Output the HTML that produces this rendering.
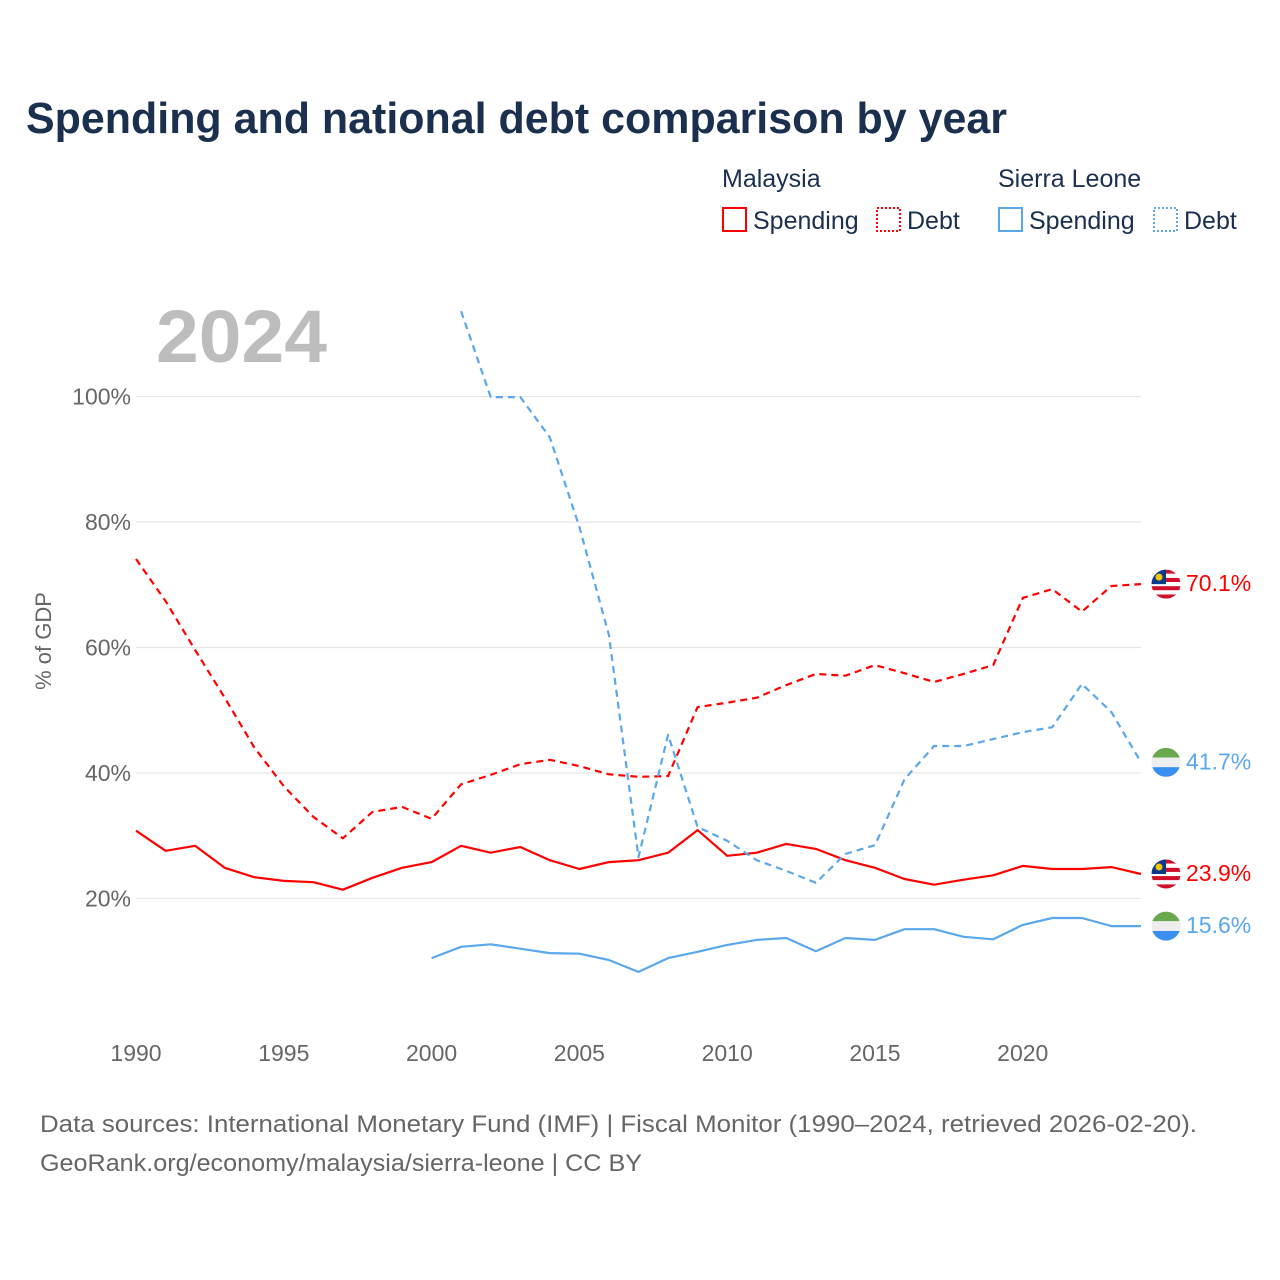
<!DOCTYPE html>
<html><head><meta charset="utf-8">
<style>
body{margin:0;background:#fff;font-family:"Liberation Sans",sans-serif;}
#wrap{position:relative;width:1280px;height:1280px;overflow:hidden;}
</style></head>
<body>
<div id="wrap">
<svg id="chart" width="1280" height="1280" xmlns="http://www.w3.org/2000/svg">
<text x="26" y="133" font-size="44" font-weight="bold" fill="#1b2f4e" textLength="981" lengthAdjust="spacingAndGlyphs">Spending and national debt comparison by year</text>
<g font-size="25" fill="#1b2f4e">
<text x="722" y="187">Malaysia</text>
<text x="998" y="187">Sierra Leone</text>
<g><rect x="723" y="208" width="23" height="23" fill="none" stroke="#f00" stroke-width="2"/><text x="753" y="229">Spending</text></g>
<g><rect x="877" y="208" width="23" height="23" fill="none" stroke="#f00" stroke-width="2" stroke-dasharray="2,2"/><text x="907" y="229">Debt</text></g>
<g><rect x="999" y="208" width="23" height="23" fill="none" stroke="#5aa7ec" stroke-width="2"/><text x="1029" y="229">Spending</text></g>
<g><rect x="1154" y="208" width="23" height="23" fill="none" stroke="#5aa7ec" stroke-width="2" stroke-dasharray="2,2"/><text x="1184" y="229">Debt</text></g>
</g>
<text x="156" y="362" font-size="74" font-weight="bold" fill="#bdbdbd" textLength="171" lengthAdjust="spacingAndGlyphs">2024</text>
<text transform="translate(51,641) rotate(-90)" text-anchor="middle" font-size="22" fill="#666">% of GDP</text>
<g id="grid"></g><g id="series"></g><g id="ends"></g>
<text x="40" y="1132" font-size="24" fill="#666" textLength="1157" lengthAdjust="spacingAndGlyphs">Data sources: International Monetary Fund (IMF) | Fiscal Monitor (1990–2024, retrieved 2026-02-20).</text>
<text x="40" y="1171" font-size="24" fill="#666" textLength="602" lengthAdjust="spacingAndGlyphs">GeoRank.org/economy/malaysia/sierra-leone | CC BY</text>
</svg>
</div>
<script>
const years=[];for(let y=1990;y<=2024;y++)years.push(y);
const myExpenditure=[30.8,27.6,28.4,24.9,23.4,22.8,22.6,21.4,23.3,24.9,25.8,28.4,27.3,28.2,26.1,24.7,25.8,26.1,27.3,30.9,26.8,27.3,28.7,27.9,26.1,24.9,23.1,22.2,23.0,23.7,25.2,24.7,24.7,25.0,23.9];
const myDebt=[74.1,67.4,59.6,52.0,44.1,37.9,33.0,29.6,33.8,34.6,32.7,38.2,39.7,41.4,42.1,41.1,39.8,39.4,39.5,50.5,51.2,52.0,54.0,55.8,55.5,57.2,55.9,54.5,55.8,57.2,67.9,69.3,65.7,69.8,70.1];
const slExpenditure=[null,null,null,null,null,null,null,null,null,null,10.5,12.3,12.7,12.0,11.3,11.2,10.2,8.3,10.5,11.5,12.6,13.4,13.7,11.6,13.7,13.4,15.1,15.1,13.9,13.5,15.8,16.9,16.9,15.6,15.6];
const slDebt=[null,null,null,null,null,null,null,null,null,null,null,113.6,99.9,99.9,93.5,79.2,62.0,26.6,46.1,31.4,29.2,26.1,24.4,22.5,27.1,28.5,39.0,44.3,44.3,45.4,46.5,47.3,54.2,49.7,41.7];
const yTicks=[20,40,60,80,100];
const xTicks=[1990,1995,2000,2005,2010,2015,2020];
const endLabels=["70.1%","41.7%","23.9%","15.6%"];
const NS="http://www.w3.org/2000/svg";
const X=y=>136+(y-1990)*(1141-136)/34;
const Y=v=>1024-v*6.275;
function mk(t,a,p){const e=document.createElementNS(NS,t);for(const k in a)e.setAttribute(k,a[k]);p.appendChild(e);return e;}
const grid=document.getElementById('grid');
yTicks.forEach(t=>{
 const l=mk('line',{x1:136,x2:1141,y1:Y(t),y2:Y(t),stroke:'#e6e6e6','stroke-width':1.2},grid);
 
 
 const tx=mk('text',{x:131,y:Y(t)+8,'text-anchor':'end','font-size':23,fill:'#666'},grid);
 tx.textContent=t+'%';
 
 
});
xTicks.forEach(t=>{
 const tx=mk('text',{x:X(t),y:1061,'text-anchor':'middle','font-size':23,fill:'#666'},grid);
 tx.textContent=t;
 
 
});
const S=document.getElementById('series');
function line(data,color,dash,name){
 let d='';data.forEach((v,i)=>{if(v==null)return;d+=(d?'L':'M')+X(years[i]).toFixed(1)+','+Y(v).toFixed(1);});
 const p=mk('path',{d:d,fill:'none',stroke:color,'stroke-width':2.2,'stroke-linejoin':'round'},S);
 if(dash)p.setAttribute('stroke-dasharray','7,5');
 
 
}
line(myDebt,'#f00',true,'malaysia-debt-line');
line(myExpenditure,'#f00',false,'malaysia-spending-line');
line(slDebt,'#5aa7ec',true,'sierra-leone-debt-line');
line(slExpenditure,'#5aa7ec',false,'sierra-leone-spending-line');
const E=document.getElementById('ends');
const last=[[myDebt,'#f00','my'],[slDebt,'#5aa7ec','sl'],[myExpenditure,'#f00','my'],[slExpenditure,'#5aa7ec','sl']];
last.forEach((s,i)=>{
 const v=s[0][s[0].length-1],cy=Y(v),cx=1166,r=14.5;
 const g=mk('g',{},E);
 
 
 const cid='c'+i;
 const cp=mk('clipPath',{id:cid},g);mk('circle',{cx:cx,cy:cy,r:r},cp);
 const inner=mk('g',{'clip-path':'url(#'+cid+')'},g);
 if(s[2]==='sl'){
  mk('rect',{x:cx-r,y:cy-r,width:2*r,height:r*2/3,fill:'#6aa84f'},inner);
  mk('rect',{x:cx-r,y:cy-r/3,width:2*r,height:r*2/3,fill:'#eee'},inner);
  mk('rect',{x:cx-r,y:cy+r/3,width:2*r,height:r*2/3,fill:'#3a8ff0'},inner);
 }else{
  for(let k=0;k<7;k++)mk('rect',{x:cx-r,y:cy-r+k*2*r/7,width:2*r,height:2*r/7,fill:k%2?'#fff':'#d0102a'},inner);
  mk('rect',{x:cx-r,y:cy-r,width:r,height:r,fill:'#0a3a8c'},inner);
  mk('circle',{cx:cx-7,cy:cy-7,r:3.5,fill:'#f5c400'},inner);
 }
 const tx=mk('text',{x:1186,y:cy+7,'font-size':23,fill:s[1]},E);
 tx.textContent=endLabels[i];
 
 
});
</script>
</body></html>
